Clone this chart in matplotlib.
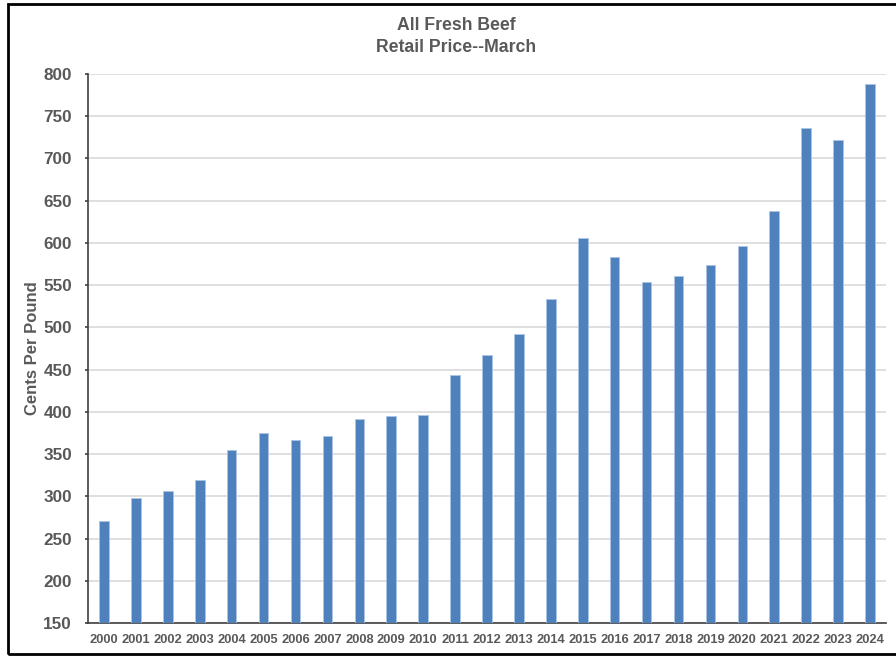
import matplotlib
matplotlib.use('Agg')
import matplotlib.pyplot as plt
from matplotlib.patches import Rectangle

years = [str(y) for y in range(2000, 2025)]
price_cents = [271, 298, 306, 319, 355, 375, 367, 371, 391, 395, 396, 444, 467, 492, 534,
               606, 583, 554, 561, 574, 596, 638, 736, 722, 788]

plt.rcParams['font.family'] = ['Liberation Sans', 'DejaVu Sans']
text_grey = '#595959'

fig = plt.figure(figsize=(8.96, 6.56), dpi=100)
ax = fig.add_axes([88 / 896, 1 - 623 / 656, 798 / 896, 549 / 656])

ax.bar(range(len(years)), price_cents, width=0.3, color='#4F81BD',
       edgecolor='#A9C4E6', linewidth=0.6, zorder=3)

ax.set_xlim(-0.5, len(years) - 0.5)
ax.set_ylim(150, 800)
ax.set_yticks(range(150, 801, 50))
ax.set_xticks(range(len(years)))
ax.set_xticklabels(years)

ax.grid(axis='y', color='#D9D9D9', linewidth=1.2, zorder=0)
for side in ['top', 'right']:
    ax.spines[side].set_visible(False)
ax.spines['left'].set_color('#404040')
ax.spines['bottom'].set_color('#404040')
ax.spines['left'].set_linewidth(1.2)
ax.spines['bottom'].set_linewidth(1.2)

ax.tick_params(axis='y', length=2.5, width=1.2, color='#404040', pad=9,
               labelsize=12.3, labelcolor=text_grey)
ax.tick_params(axis='x', length=0, pad=8, labelsize=9.3, labelcolor=text_grey)
for lbl in ax.get_xticklabels() + ax.get_yticklabels():
    lbl.set_fontweight('bold')

ax.set_ylabel('Cents Per Pound', fontsize=12, fontweight='bold', color=text_grey, va='center')
ax.yaxis.set_label_coords(-0.069, 0.5)

fig.text(456 / 896, 1 - 26 / 656, 'All Fresh Beef', ha='center', va='center',
         fontsize=12.7, fontweight='bold', color=text_grey)
fig.text(456 / 896, 1 - 47 / 656, 'Retail Price--March', ha='center', va='center',
         fontsize=12.7, fontweight='bold', color=text_grey)

# outer frame round the whole chart
fig.patches.append(Rectangle((8 / 896, 2 / 656), 1.0, 1 - 6 / 656, transform=fig.transFigure,
                             fill=False, edgecolor='black', linewidth=2))

fig.savefig('out.png', dpi=100)
